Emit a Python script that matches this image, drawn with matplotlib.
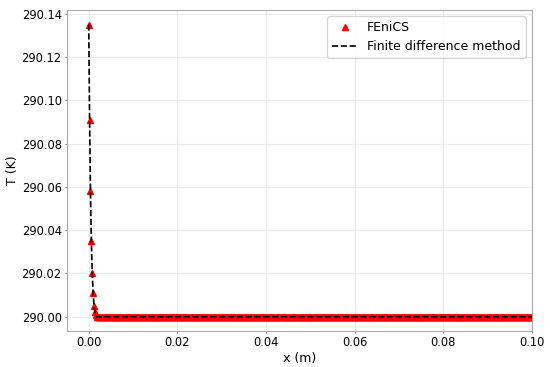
import numpy as np
import matplotlib.pyplot as plt

# temperature near the boundary
dx = 0.0002
T_head = [290.135, 290.091, 290.058, 290.035, 290.020, 290.011, 290.005, 290.0023, 290.001]
n_points = 501
T_fenics = np.array(T_head + [290.0] * (n_points - len(T_head)))
x = np.arange(n_points) * dx
T_fdm = T_fenics.copy()

fig, ax = plt.subplots(figsize=(5.5, 3.67), dpi=100)
fig.subplots_adjust(left=0.121, right=0.967, top=0.973, bottom=0.097)

ax.plot(x, T_fenics, '^', color='red', markersize=5, label='FEniCS')
ax.plot(x, T_fdm, '--', color='black', linewidth=1.2, label='Finite difference method')

ax.set_xlim(right=0.1)
ax.set_xlabel('x (m)', fontsize=9, labelpad=2)
ax.set_ylabel('T (K)', fontsize=9, labelpad=2)
ax.tick_params(labelsize=8.3, color='#999999', length=1.5, pad=2)
ax.grid(True, color='#ebebeb', linewidth=0.8)
for s in ax.spines.values():
    s.set_color('#aaaaaa')
ax.legend(fontsize=9, loc='upper right')

plt.savefig('out.png')
